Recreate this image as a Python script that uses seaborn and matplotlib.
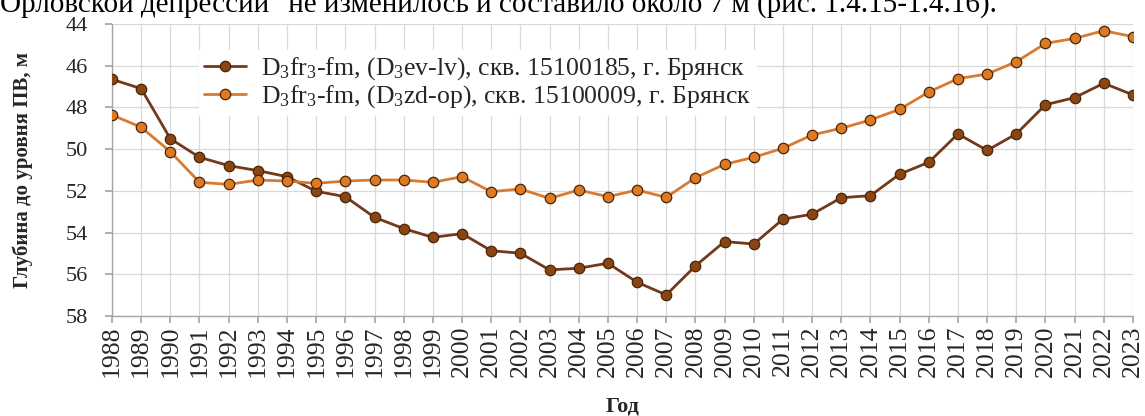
import numpy as np
import pandas as pd
import matplotlib
matplotlib.use("Agg")
import matplotlib.pyplot as plt
import seaborn as sns

years = list(range(1988, 2024))
well_185 = [46.65, 47.10, 49.50, 50.39, 50.79, 51.03, 51.32, 52.02, 52.28, 53.27,
            53.81, 54.23, 54.05, 54.87, 54.99, 55.79, 55.71, 55.47, 56.38, 56.99,
            55.60, 54.43, 54.55, 53.36, 53.12, 52.33, 52.23, 51.20, 50.63, 49.27,
            50.06, 49.27, 47.87, 47.53, 46.84, 47.40]
well_009 = [48.36, 48.95, 50.12, 51.59, 51.69, 51.48, 51.53, 51.64, 51.53, 51.48,
            51.48, 51.59, 51.32, 52.04, 51.91, 52.36, 51.96, 52.28, 51.96, 52.31,
            51.37, 50.73, 50.39, 49.96, 49.32, 49.00, 48.60, 48.09, 47.26, 46.62,
            46.40, 45.81, 44.93, 44.69, 44.32, 44.61]
labels = ["D$_\\mathregular{3}$fr$_\\mathregular{3}$-fm, (D$_\\mathregular{3}$ev-lv), скв. 15100185, г. Брянск",
          "D$_\\mathregular{3}$fr$_\\mathregular{3}$-fm, (D$_\\mathregular{3}$zd-op), скв. 15100009, г. Брянск"]
y_ticks = [44, 46, 48, 50, 52, 54, 56, 58]

sns.set_theme(style="white")
plt.rcParams["font.family"] = ["Liberation Serif", "DejaVu Serif"]
plt.rcParams["mathtext.fontset"] = "custom"
plt.rcParams["mathtext.rm"] = "Liberation Serif"
plt.rcParams["mathtext.default"] = "regular"

df = pd.DataFrame({
    "year": years * 2,
    "depth": well_185 + well_009,
    "series": [labels[0]] * len(years) + [labels[1]] * len(years),
})

fig = plt.figure(figsize=(11.45, 4.16), dpi=100)
ax = fig.add_axes([0.0978, 0.2404, 0.8917, 0.7019])

line_colors = ["#74391a", "#d97a30"]
marker_faces = ["#8a4512", "#de7a22"]

sns.lineplot(data=df, x="year", y="depth", hue="series", hue_order=labels,
             palette=line_colors, ax=ax, linewidth=2.0, legend="brief",
             marker="o", markersize=7.5, markeredgecolor="#4a2508",
             markeredgewidth=0.9, zorder=3)
for i, line in enumerate(ax.lines[:2]):
    line.set_markerfacecolor(marker_faces[i])

ax.set_xlim(1988, 2023)
ax.set_ylim(58, 44)
ax.set_yticks(y_ticks)
ax.set_yticklabels([str(v) for v in y_ticks], fontsize=16)
ax.set_xticks(years)
ax.set_xticklabels([str(y) for y in years], rotation=90, fontsize=18.5)
ax.grid(True, color="#d9d9d9", linewidth=0.9)
ax.set_axisbelow(True)
for s in ["top", "right"]:
    ax.spines[s].set_visible(False)
for s in ["left", "bottom"]:
    ax.spines[s].set_color("#a6a6a6")
    ax.spines[s].set_linewidth(1.0)
ax.tick_params(axis="both", which="both", length=5, color="#a6a6a6", pad=2, left=True, bottom=True)
ax.tick_params(axis="y", pad=12)

ax.set_xlabel("Год", fontsize=16, fontweight="bold", labelpad=14)
ax.set_ylabel("Глубина до уровня ПВ, м", fontsize=15, fontweight="bold", labelpad=24)

handles, hl = ax.get_legend_handles_labels()
for i, h in enumerate(handles[:2]):
    h.set_markerfacecolor(marker_faces[i])
leg = ax.legend(handles[:2], hl[:2], loc="upper left", bbox_to_anchor=(0.073, 0.955),
                fontsize=18.5, frameon=True, framealpha=1.0, edgecolor="white",
                facecolor="white", handlelength=1.6, handletextpad=0.6, labelspacing=0.05,
                borderpad=0.2, fancybox=False)

fig.text(0.0, 1.0 - 5 / 416, "Орловской депрессии\" не изменилось и составило около 7 м (рис. 1.4.15-1.4.16).",
         fontsize=21, ha="left", va="center", color="black")

fig.savefig("out.png", dpi=100, facecolor="white")
